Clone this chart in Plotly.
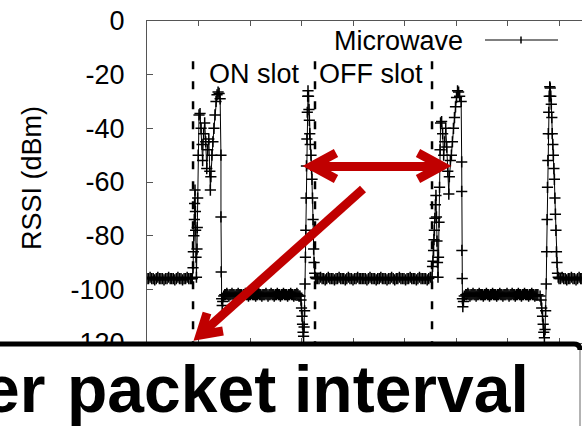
import plotly.graph_objects as go

# ---------------------------------------------------------------------------
# Microwave-oven RSSI trace (time in ms, RSSI in dBm), split by phase
# ---------------------------------------------------------------------------
t_quiet_a = [0.00, 0.15, 0.30, 0.45, 0.60, 0.75, 0.90, 1.05, 1.20, 1.35,
             1.50, 1.65, 1.80, 1.95, 2.10, 2.25, 2.40, 2.55, 2.70, 2.85,
             3.00, 3.15, 3.30, 3.45, 3.60, 3.75, 3.90, 4.05, 4.20, 4.32]
rssi_quiet_a = [-96, -96, -95.5, -96, -96, -96.5, -96, -95.5, -96, -96,
                -96, -96.5, -96, -96, -95.5, -96, -96, -96, -96.5, -96,
                -95.5, -96, -96, -96.5, -96, -96, -95.5, -96, -96, -96]

t_burst_a = [4.40, 4.47, 4.50, 4.55, 4.60, 4.62, 4.66, 4.70, 4.72, 4.76, 4.80,
             4.85, 4.88, 4.92, 4.97, 5.05, 5.15, 5.25, 5.35, 5.40, 5.50, 5.60,
             5.70, 5.80, 5.90, 6.00, 6.10, 6.15, 6.20, 6.30, 6.40, 6.50, 6.60,
             6.70, 6.80, 6.90, 7.00, 7.10, 7.18, 7.18, 7.20, 7.25, 7.30, 7.35,
             7.45]
rssi_burst_a = [-96, -92, -86, -80, -74, -68, -63, -71, -78, -88, -95.5,
                -85, -77, -66, -50, -35, -34.5, -40, -46, -52, -42, -38,
                -45, -55, -48, -44, -56, -63, -58, -50, -45, -40, -35,
                -30, -27.5, -26.5, -27, -29, -50, -73, -93.5, -103.5, -106, -104.5,
                -102.5]

t_bar_a = [7.55, 7.65, 7.75, 7.85, 7.95, 8.05, 8.15, 8.25, 8.35, 8.45,
           8.55, 8.65, 8.75, 8.85, 8.95, 9.05, 9.15, 9.25, 9.35, 9.45,
           9.55, 9.65, 9.75, 9.85, 9.95, 10.05, 10.15, 10.25, 10.35, 10.45,
           10.55, 10.65, 10.75, 10.85, 10.95, 11.05, 11.15, 11.25, 11.35, 11.45,
           11.55, 11.65, 11.75, 11.85, 11.95, 12.05, 12.15, 12.25, 12.35, 12.45,
           12.55, 12.65, 12.75, 12.85, 12.95, 13.05, 13.15, 13.25, 13.35, 13.45,
           13.55, 13.65, 13.75, 13.85, 13.95, 14.05, 14.15, 14.25, 14.35, 14.45,
           14.55, 14.65, 14.75]
rssi_bar_a = [-102, -102, -101.5, -102, -102.5, -102, -102, -101.5, -102, -102,
              -102.5, -102, -102, -101.5, -102, -102, -102, -102.5, -102, -102,
              -101.5, -102, -102, -102.5, -102, -102, -101.5, -102, -102, -102,
              -102.5, -102, -102, -101.5, -102, -102, -102.5, -102, -102, -102,
              -101.5, -102, -102.5, -102, -102, -101.5, -102, -102, -102.5, -102,
              -102, -101.5, -102, -102, -102.5, -102, -102, -101.5, -102, -102,
              -102, -102.5, -102, -102, -101.5, -102, -102, -102.5, -102, -102,
              -101.5, -102, -102.5]

t_burst_b = [14.85, 14.95, 15.00, 15.05, 15.10, 15.15, 15.20, 15.25, 15.30,
             15.34, 15.38, 15.42, 15.45, 15.48, 15.52, 15.56, 15.60, 15.63,
             15.68, 15.72, 15.76, 15.80, 15.85, 15.92, 15.98, 16.02, 16.07,
             16.12, 16.18, 16.22, 16.28, 16.35, 16.42]
rssi_burst_b = [-102.5, -104, -107, -110, -113, -116, -117.5, -114, -108,
                -98, -88, -78, -66, -54, -44, -34, -28, -26,
                -28, -33, -37, -42, -46, -50, -55, -59, -66,
                -74, -85, -90, -94, -95.5, -96]

t_quiet_b = [16.55, 16.70, 16.85, 17.00, 17.15, 17.30, 17.45, 17.60, 17.75, 17.90,
             18.05, 18.20, 18.35, 18.50, 18.65, 18.80, 18.95, 19.10, 19.25, 19.40,
             19.55, 19.70, 19.85, 20.00, 20.15, 20.30, 20.45, 20.60, 20.75, 20.90,
             21.05, 21.20, 21.35, 21.50, 21.65, 21.80, 21.95, 22.10, 22.25, 22.40,
             22.55, 22.70, 22.85, 23.00, 23.15, 23.30, 23.45, 23.60, 23.75, 23.90,
             24.05, 24.20, 24.35, 24.50, 24.65, 24.80, 24.95, 25.10, 25.25, 25.40,
             25.55, 25.70, 25.85, 26.00, 26.15, 26.30, 26.45, 26.60, 26.75, 26.90,
             27.05, 27.20, 27.35, 27.50]
rssi_quiet_b = [-96, -96, -95.5, -96, -96, -96.5, -96, -95.5, -96, -96,
                -96, -96.5, -96, -96, -95.5, -96, -96, -96, -96.5, -96,
                -95.5, -96, -96, -96.5, -96, -96, -95.5, -96, -96, -96,
                -96, -96, -96.5, -96, -95.5, -96, -96, -96, -96.5, -96,
                -96, -95.5, -96, -96, -96, -96.5, -96, -96, -95.5, -96,
                -96.5, -96, -96, -95.5, -96, -96, -96, -96.5, -96, -96,
                -95.5, -96, -96, -96, -96.5, -96, -95.5, -96, -96, -96,
                -96, -96.5, -96, -95.5]

t_burst_c = [27.67, 27.72, 27.76, 27.82, 27.86, 27.90, 27.95, 28.00, 28.05,
             28.10, 28.15, 28.20, 28.25, 28.30, 28.35, 28.40, 28.45, 28.50,
             28.60, 28.70, 28.80, 28.90, 29.00, 29.10, 29.20, 29.30, 29.35,
             29.45, 29.55, 29.65, 29.75, 29.85, 29.95, 30.05, 30.15, 30.25,
             30.35, 30.50, 30.55, 30.55, 30.57, 30.60, 30.62, 30.66, 30.72,
             30.80]
rssi_burst_c = [-95.5, -91.5, -89.5, -85.5, -81.5, -78, -73.5, -68.5, -65,
                -73, -82, -90, -95.5, -88, -75, -62, -48, -38,
                -37.5, -42, -50, -45, -40, -47, -56, -64.5, -58,
                -52, -50, -45, -40, -36, -32, -28.5, -26, -26.5,
                -28, -30, -52.5, -63.5, -85.5, -96, -103.5, -106.5, -104.5,
                -102.5]

t_bar_b = [30.95, 31.05, 31.15, 31.25, 31.35, 31.45, 31.55, 31.65, 31.75, 31.85,
           31.95, 32.05, 32.15, 32.25, 32.35, 32.45, 32.55, 32.65, 32.75, 32.85,
           32.95, 33.05, 33.15, 33.25, 33.35, 33.45, 33.55, 33.65, 33.75, 33.85,
           33.95, 34.05, 34.15, 34.25, 34.35, 34.45, 34.55, 34.65, 34.75, 34.85,
           34.95, 35.05, 35.15, 35.25, 35.35, 35.45, 35.55, 35.65, 35.75, 35.85,
           35.95, 36.05, 36.15, 36.25, 36.35, 36.45, 36.55, 36.65, 36.75, 36.85,
           36.95, 37.05, 37.15, 37.25, 37.35, 37.45, 37.55, 37.65, 37.75, 37.85,
           37.95]
rssi_bar_b = [-102, -102, -101.5, -102, -102.5, -102, -102, -101.5, -102, -102,
              -102.5, -102, -102, -101.5, -102, -102, -102, -102.5, -102, -102,
              -101.5, -102, -102, -102.5, -102, -102, -101.5, -102, -102, -102,
              -102.5, -102, -102, -101.5, -102, -102, -102.5, -102, -102, -102,
              -101.5, -102, -102.5, -102, -102, -101.5, -102, -102, -102.5, -102,
              -102, -101.5, -102, -102, -102.5, -102, -102, -101.5, -102, -102,
              -102, -102.5, -102, -102, -101.5, -102, -102, -102.5, -102, -102,
              -102]

t_burst_d = [38.16, 38.25, 38.32, 38.40, 38.46, 38.52, 38.58, 38.64, 38.70,
             38.76, 38.80, 38.84, 38.88, 38.92, 38.96, 39.00, 39.05, 39.10,
             39.15, 39.20, 39.25, 39.30, 39.34, 39.40, 39.45, 39.50, 39.55,
             39.60, 39.65, 39.70, 39.75, 39.80, 39.85, 39.92]
rssi_burst_d = [-102.5, -104, -107, -110, -113, -116, -118, -115, -108,
                -98, -86, -74, -62, -52, -42, -34, -28, -24.5,
                -25, -28, -31, -36, -42, -46, -50, -55, -59,
                -66, -72, -78, -86, -90, -94, -95.5]

t_quiet_c = [40.00, 40.15, 40.30, 40.45, 40.60, 40.75, 40.90, 41.05, 41.20, 41.35,
             41.50, 41.65, 41.80, 41.95, 42.10, 42.22]
rssi_quiet_c = [-96, -96, -95.5, -96, -96, -96.5, -96, -96, -95.5, -96,
                -96, -96.5, -96, -95.5, -96, -96]

# boundaries of the ON / OFF slots (ms)
slot_edges_ms = [4.47, 16.31, 27.67]

y_ticks = [0, -20, -40, -60, -80, -100, -120]
y_tick_labels = ["0", "-20", "-40", "-60", "-80", "-100", "-120"]

time_ms = (t_quiet_a + t_burst_a + t_bar_a + t_burst_b + t_quiet_b +
           t_burst_c + t_bar_b + t_burst_d + t_quiet_c)
rssi_dbm = (rssi_quiet_a + rssi_burst_a + rssi_bar_a + rssi_burst_b + rssi_quiet_b +
            rssi_burst_c + rssi_bar_b + rssi_burst_d + rssi_quiet_c)

# ---------------------------------------------------------------------------
W, H = 582, 426
L, T, B = 147, 21, 83
PW, PH = W - L, H - T - B
FONT = "Liberation Sans, Arial, sans-serif"
RED = "#C00000"


def px(x):
    return (x - L) / PW


def py(y):
    return (T + PH - y) / PH


def path(points):
    return "M " + " L ".join(f"{px(x):.5f},{py(y):.5f}" for x, y in points)


fig = go.Figure()
fig.add_trace(go.Scatter(
    x=time_ms, y=rssi_dbm, name="Microwave", mode="lines+markers",
    line=dict(color="black", width=1),
    marker=dict(symbol="cross-thin", size=8, line=dict(color="black", width=1.5)),
    showlegend=False,
))

shapes = []
for edge in slot_edges_ms:
    shapes.append(dict(type="line", xref="x", yref="y", x0=edge, x1=edge,
                       y0=-15, y1=-120, layer="below",
                       line=dict(color="black", width=2.5, dash="8px,12px")))

# legend sample: line with a single "+" point
shapes.append(dict(type="line", xref="paper", yref="paper",
                   x0=px(485), x1=px(558), y0=py(40), y1=py(40),
                   line=dict(color="black", width=1)))
shapes.append(dict(type="line", xref="paper", yref="paper",
                   x0=px(521), x1=px(521), y0=py(36.5), y1=py(43.5),
                   line=dict(color="black", width=1.5)))

# red arrows
arrow_line = dict(color=RED, width=9)
for pts in ([(310, 166.5), (443, 166.5)],
            [(336, 153), (312, 166), (336, 179)],
            [(418, 153), (442, 166), (418, 179)],
            [(363, 189), (201, 334)],
            [(207, 313), (200, 335), (223, 331)]):
    shapes.append(dict(type="path", xref="paper", yref="paper", path=path(pts),
                       line=arrow_line, layer="above"))

# caption panel along the bottom
shapes.append(dict(type="rect", xref="paper", yref="paper",
                   x0=px(-10), x1=px(590), y0=py(344), y1=py(440),
                   fillcolor="white", line=dict(width=0), layer="above"))
shapes.append(dict(type="path", xref="paper", yref="paper", layer="above",
                   path=(f"M {px(-10):.5f},{py(344):.5f} L {px(574):.5f},{py(344):.5f} "
                         f"Q {px(580):.5f},{py(344):.5f} {px(580):.5f},{py(350):.5f}"),
                   line=dict(color="black", width=5)))
shapes.append(dict(type="line", xref="paper", yref="paper", layer="above",
                   x0=px(580), x1=px(580), y0=py(350), y1=py(430),
                   line=dict(color="#9a9a9a", width=1.5)))

annotations = [
    dict(text="Microwave", x=px(398.5), y=py(41)),
    dict(text="ON slot", x=px(254.5), y=py(74)),
    dict(text="OFF slot", x=px(371), y=py(74)),
]
for a in annotations:
    a.update(xref="paper", yref="paper", showarrow=False, xanchor="center",
             yanchor="middle", font=dict(family=FONT, size=27, color="black"))

annotations.append(dict(text="RSSI (dBm)", x=px(32), y=py(178), xref="paper",
                        yref="paper", showarrow=False, textangle=-90,
                        xanchor="center", yanchor="middle",
                        font=dict(family=FONT, size=27, color="black")))

caption_font = dict(family=FONT, size=66, color="black", weight=700)
for word, x, anchor in (("er", 47, "right"), ("packet", 65, "left"),
                        ("interval", 531, "right")):
    annotations.append(dict(text=word, x=px(x), y=py(389), xref="paper",
                            yref="paper", showarrow=False, xanchor=anchor,
                            yanchor="middle", font=caption_font))

fig.update_layout(
    width=W, height=H,
    margin=dict(l=L, r=0, t=T, b=B, pad=0),
    paper_bgcolor="white", plot_bgcolor="white",
    showlegend=False, shapes=shapes, annotations=annotations,
)
fig.update_xaxes(range=[0, 42.23], tick0=0, dtick=5, showticklabels=False,
                 showline=True, linecolor="#555555", linewidth=1, mirror="ticks",
                 ticks="inside", ticklen=5, tickcolor="#555555",
                 showgrid=False, zeroline=False)
fig.update_yaxes(range=[-120, 0], tickvals=y_ticks, ticktext=y_tick_labels,
                 showline=True, linecolor="#555555", linewidth=1,
                 ticks="inside", ticklen=6, tickcolor="#555555",
                 ticklabelstandoff=16,
                 tickfont=dict(family=FONT, size=27, color="black"),
                 showgrid=False, zeroline=False)

fig.write_html("out.html")
